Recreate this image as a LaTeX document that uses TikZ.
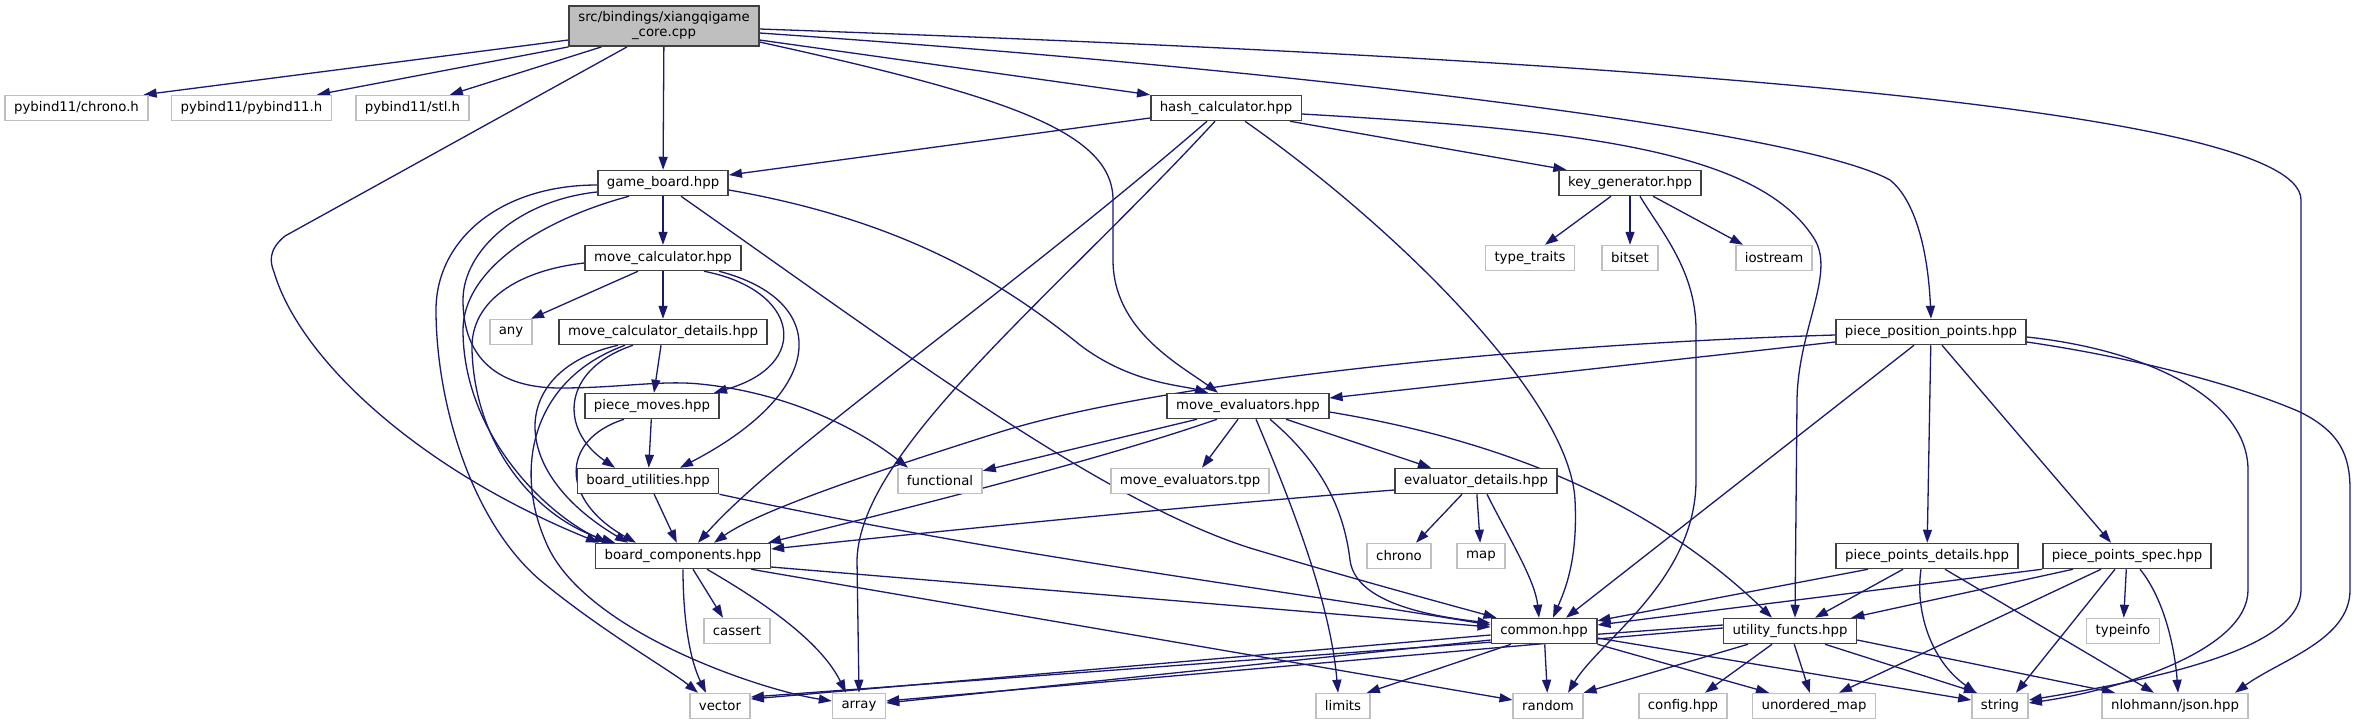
\documentclass[tikz,border=0pt]{standalone}
\usepackage{fontspec}
\setmainfont{DejaVu Sans}
\usetikzlibrary{arrows.meta}
\definecolor{edgeblue}{HTML}{191970}
\definecolor{greyseventyfive}{HTML}{BFBFBF}
\pgfdeclarelayer{bg}
\pgfsetlayers{bg,main}
\tikzset{
  base/.style={rectangle, minimum height=25pt, inner xsep=9pt, inner ysep=0pt,
    font=\fontsize{13.3}{15}\selectfont, text=black},
  proj/.style={base, draw=black!75, line width=1.5pt, fill=white},
  ext/.style={base, draw=greyseventyfive, line width=1.5pt, fill=white},
  rootbox/.style={base, draw=black!75, fill=greyseventyfive, line width=1.8pt,
    minimum height=40pt, align=center},
  dep/.style={draw=edgeblue, line width=1.3pt, -{Triangle[length=13pt,width=9pt]}},
}
\begin{document}
\begin{tikzpicture}[x=1pt,y=-1pt]
\useasboundingbox (0,0) rectangle (2357,724);

\node[rootbox] (root) at (664,26) {src/bindings/xiangqigame\\\_core.cpp};
\node[ext] (chrono) at (76.5,108) {pybind11/chrono.h};
\node[ext] (pyb) at (251.5,108) {pybind11/pybind11.h};
\node[ext] (stl) at (412.5,108) {pybind11/stl.h};
\node[proj] (hash) at (1226,108) {hash\_calculator.hpp};
\node[proj] (gb) at (663,183) {game\_board.hpp};
\node[proj] (kg) at (1630,183) {key\_generator.hpp};
\node[proj] (mc) at (663,258) {move\_calculator.hpp};
\node[ext] (tt) at (1530,258) {type\_traits};
\node[ext] (bitset) at (1630,258) {bitset};
\node[ext] (iostream) at (1774,258) {iostream};
\node[ext] (any) at (511,332) {any};
\node[proj] (mcd) at (663,332) {move\_calculator\_details.hpp};
\node[proj] (ppp) at (1931,332) {piece\_position\_points.hpp};
\node[proj] (pm) at (652,406) {piece\_moves.hpp};
\node[proj] (me) at (1248,406) {move\_evaluators.hpp};
\node[proj] (bu) at (648,481) {board\_utilities.hpp};
\node[ext] (func) at (940,481) {functional};
\node[ext] (tpp) at (1190,481) {move\_evaluators.tpp};
\node[proj] (ed) at (1476,481) {evaluator\_details.hpp};
\node[proj] (bc) at (683,556) {board\_components.hpp};
\node[ext] (chr) at (1399,556) {chrono};
\node[ext] (map) at (1481,556) {map};
\node[proj] (ppd) at (1927,556) {piece\_points\_details.hpp};
\node[proj] (pps) at (2127,556) {piece\_points\_spec.hpp};
\node[ext] (cassert) at (737,631) {cassert};
\node[proj] (common) at (1544,631) {common.hpp};
\node[proj] (uf) at (1790,631) {utility\_functs.hpp};
\node[ext] (typeinfo) at (2123,631) {typeinfo};
\node[ext] (vector) at (720,706) {vector};
\node[ext] (array) at (859,706) {array};
\node[ext] (limits) at (1343,706) {limits};
\node[ext] (random) at (1548,706) {random};
\node[ext] (config) at (1683,706) {config.hpp};
\node[ext] (umap) at (1814,706) {unordered\_map};
\node[ext] (string) at (2000,706) {string};
\node[ext] (json) at (2175,706) {nlohmann/json.hpp};

\begin{pgfonlayer}{bg}
\fill[white] (0,0) rectangle (2357,724);
% root
\draw[dep] ([yshift=-14pt]root.west) -- ([xshift=-5pt]chrono.north east);
\draw[dep] (root.south west) -- ([xshift=-15pt]pyb.north east);
\draw[dep] ([xshift=33pt]root.south west) -- ([xshift=-20pt]stl.north east);
\draw[dep] (root) -- (gb);
\draw[dep] ([yshift=-14pt]root.east) -- (hash.north west);
\draw[dep] ([xshift=-37pt]root.south) -- (285,236) .. controls (268,250) and (270,262) .. (274,272) .. controls (300,360) and (420,470) .. ([xshift=-84pt]bc.north);
\draw[dep] ([yshift=-16pt]root.east) .. controls (1000,95) and (1113,130) .. (1113,200) -- (1113,260) .. controls (1113,330) and (1180,365) .. ([xshift=-30pt]me.north);
\draw[dep] ([yshift=-7pt]root.east) .. controls (1300,70) and (1800,130) .. (1890,180) .. controls (1915,200) and (1928,250) .. (ppp.north);
\draw[dep] ([yshift=-3pt]root.east) .. controls (1500,55) and (2301,100) .. (2301,200) -- (2301,590) .. controls (2301,650) and (2150,680) .. ([yshift=6pt]string.east);
% hash
\draw[dep] ([yshift=-10pt]hash.west) -- ([yshift=8pt]gb.east);
\draw[dep] ([xshift=-12pt]hash.south east) -- ([xshift=8pt]kg.north west);
\draw[dep] ([yshift=-6pt]hash.east) .. controls (1580,130) and (1760,150) .. (1815,240) .. controls (1835,275) and (1798,330) .. (1797,400) -- ([xshift=5pt]uf.north);
\draw[dep] ([xshift=19pt]hash.south) .. controls (1400,230) and (1570,400) .. (1575,500) .. controls (1578,560) and (1565,590) .. ([xshift=9pt]common.north);
\draw[dep] ([xshift=-19pt]hash.south) .. controls (1000,300) and (780,450) .. ([xshift=15pt]bc.north);
\draw[dep] ([xshift=-11pt]hash.south) .. controls (1050,300) and (860,450) .. (857,560) -- (array.north);
% key generator
\draw[dep] ([xshift=-19pt]kg.south) -- ([xshift=15pt]tt.north);
\draw[dep] (kg) -- (bitset);
\draw[dep] ([xshift=23pt]kg.south) -- ([xshift=-31pt]iostream.north);
\draw[dep] ([xshift=10pt]kg.south) .. controls (1660,230) and (1696,270) .. (1696,330) -- (1696,480) .. controls (1696,580) and (1600,640) .. ([xshift=20pt]random.north);
% game board
\draw[dep] (gb) -- (mc);
\draw[dep] ([yshift=-7pt]gb.east) .. controls (900,220) and (1000,280) .. (1080,345) .. controls (1130,383) and (1180,385) .. ([xshift=-40pt]me.north);
\draw[dep] ([xshift=18pt]gb.south) .. controls (900,350) and (1100,500) .. (1250,548) .. controls (1350,578) and (1450,605) .. ([xshift=6pt]common.north west);
\draw[dep] ([yshift=-9pt]gb.west) .. controls (520,200) and (463,250) .. (463,300) .. controls (463,360) and (500,388) .. (560,388) .. controls (620,388) and (660,380) .. (700,384) .. controls (790,393) and (860,430) .. ([xshift=-32pt]func.north);
\draw[dep] ([yshift=-2pt]gb.west) .. controls (500,185) and (436,240) .. (436,310) .. controls (436,400) and (470,520) .. (540,580) .. controls (600,630) and (670,670) .. ([xshift=-22pt]vector.north);
\draw[dep] ([xshift=-34pt]gb.south) .. controls (540,220) and (463,270) .. (463,330) .. controls (463,430) and (540,510) .. ([xshift=-76pt]bc.north);
% move calculator
\draw[dep] ([xshift=-25pt]mc.south) -- ([xshift=20pt]any.north);
\draw[dep] (mc) -- (mcd);
\draw[dep] ([yshift=-5pt]mc.west) .. controls (520,270) and (470,300) .. (472,350) .. controls (475,450) and (540,520) .. ([xshift=-68pt]bc.north);
\draw[dep] ([xshift=41pt]mc.south) .. controls (800,290) and (812,365) .. ([xshift=62pt]pm.north);
\draw[dep] ([xshift=56pt]mc.south) .. controls (830,300) and (830,390) .. ([xshift=32pt]bu.north);
% move calculator details
\draw[dep] (mcd) -- (pm);
\draw[dep] ([xshift=-30pt]mcd.south) .. controls (560,370) and (560,430) .. ([xshift=-33pt]bu.north);
\draw[dep] ([xshift=-45pt]mcd.south) .. controls (510,370) and (505,470) .. ([xshift=-55pt]bc.north);
\draw[dep] ([xshift=-38pt]mcd.south) .. controls (530,380) and (515,470) .. (545,540) .. controls (580,630) and (760,690) .. ([yshift=5pt]array.west);
% piece moves
\draw[dep] (pm) -- (bu);
\draw[dep] ([xshift=-28pt]pm.south) .. controls (560,440) and (560,500) .. ([xshift=-47pt]bc.north);
% board utilities
\draw[dep] (bu) -- (bc);
\draw[dep] (bu.south east) .. controls (1000,555) and (1250,585) .. ([yshift=6pt]common.west);
% board components
\draw[dep] (bc.south) .. controls (683,620) and (690,660) .. ([xshift=-14pt]vector.north);
\draw[dep] ([xshift=10pt]bc.south) -- ([xshift=-14pt]cassert.north);
\draw[dep] ([xshift=24pt]bc.south) .. controls (760,600) and (820,640) .. ([xshift=-13pt]array.north);
\draw[dep] ([yshift=-11pt]bc.east) -- ([yshift=4pt]common.west);
\draw[dep] ([xshift=-20pt]bc.south east) -- ([yshift=6pt]random.west);
% common
\draw[dep] ([yshift=-4pt]common.west) -- ([yshift=7pt]vector.east);
\draw[dep] ([yshift=-9pt]common.west) -- ([yshift=3pt]array.east);
\draw[dep] ([xshift=-33pt]common.south) -- ([xshift=-4pt]limits.north east);
\draw[dep] (common) -- (random);
\draw[dep] (common.south east) -- ([xshift=-45pt]umap.north);
\draw[dep] ([yshift=-7pt]common.east) -- ([yshift=6pt]string.west);
% utility functs
\draw[dep] ([yshift=6pt]uf.west) -- ([yshift=9pt]vector.east);
\draw[dep] ([yshift=3pt]uf.west) -- ([yshift=5pt]array.east);
\draw[dep] ([xshift=-42pt]uf.south) -- (random.north east);
\draw[dep] ([xshift=-18pt]uf.south) -- ([xshift=22pt]config.north);
\draw[dep] (uf) -- (umap);
\draw[dep] ([xshift=35pt]uf.south) -- ([xshift=-23pt]string.north);
\draw[dep] ([yshift=-9pt]uf.east) -- ([xshift=-60pt]json.north);
% piece position points
\draw[dep] ([yshift=-3pt]ppp.west) .. controls (1500,345) and (1150,385) .. (1000,432) .. controls (880,470) and (760,510) .. ([xshift=31pt]bc.north);
\draw[dep] ([yshift=-10pt]ppp.west) -- ([yshift=8pt]me.east);
\draw[dep] ([xshift=-17pt]ppp.south) -- ([xshift=22pt]common.north);
\draw[dep] (ppp) -- (ppd);
\draw[dep] ([xshift=11pt]ppp.south) -- ([xshift=-16pt]pps.north);
\draw[dep] ([yshift=-5pt]ppp.east) .. controls (2150,350) and (2248,400) .. (2248,470) -- (2248,590) .. controls (2248,650) and (2120,690) .. ([yshift=3pt]string.east);
\draw[dep] ([yshift=-10pt]ppp.east) .. controls (2150,360) and (2250,390) .. (2300,412) .. controls (2340,432) and (2350,455) .. (2350,490) -- (2350,590) .. controls (2350,640) and (2280,660) .. ([xshift=60pt]json.north);
% evaluator details
\draw[dep] ([yshift=-9pt]ed.west) .. controls (1200,505) and (950,530) .. ([yshift=7pt]bc.east);
\draw[dep] ([xshift=-14pt]ed.south) -- ([xshift=17pt]chr.north);
\draw[dep] (ed) -- (map);
\draw[dep] ([xshift=11pt]ed.south) .. controls (1510,540) and (1535,580) .. ([xshift=-5pt]common.north);
% move evaluators
\draw[dep] ([xshift=-51pt]me.south) -- ([yshift=-3pt]func.north east);
\draw[dep] ([xshift=-31pt]me.south) .. controls (1100,460) and (900,510) .. ([xshift=-3pt]bc.north east);
\draw[dep] ([xshift=-10pt]me.south) -- ([xshift=12pt]tpp.north);
\draw[dep] ([xshift=8pt]me.south) .. controls (1290,500) and (1330,600) .. ([xshift=-5pt]limits.north);
\draw[dep] ([xshift=22pt]me.south) .. controls (1330,470) and (1345,520) .. (1350,560) .. controls (1355,600) and (1420,615) .. ([yshift=8pt]common.west);
\draw[dep] ([xshift=38pt]me.south) -- ([xshift=-45pt]ed.north);
\draw[dep] ([yshift=-6pt]me.east) .. controls (1500,440) and (1650,500) .. ([xshift=-18pt]uf.north);
% piece points details
\draw[dep] ([xshift=-59pt]ppd.south) -- ([yshift=-3pt]common.north east);
\draw[dep] ([xshift=-24pt]ppd.south) -- ([xshift=25pt]uf.north);
\draw[dep] ([xshift=-6pt]ppd.south) .. controls (1915,610) and (1930,660) .. ([xshift=-24pt]string.north);
\draw[dep] ([xshift=18pt]ppd.south) -- ([xshift=-21pt]json.north);
% piece points spec
\draw[dep] (pps.south west) -- ([yshift=6pt]common.east);
\draw[dep] ([xshift=-54pt]pps.south) -- ([xshift=-6pt]uf.north east);
\draw[dep] ([xshift=-26pt]pps.south) -- ([xshift=25pt]umap.north);
\draw[dep] ([xshift=-12pt]pps.south) -- ([xshift=16pt]string.north);
\draw[dep] (pps) -- (typeinfo);
\draw[dep] ([xshift=13pt]pps.south) .. controls (2165,600) and (2175,650) .. ([xshift=3pt]json.north);
\end{pgfonlayer}
\end{tikzpicture}
\end{document}
